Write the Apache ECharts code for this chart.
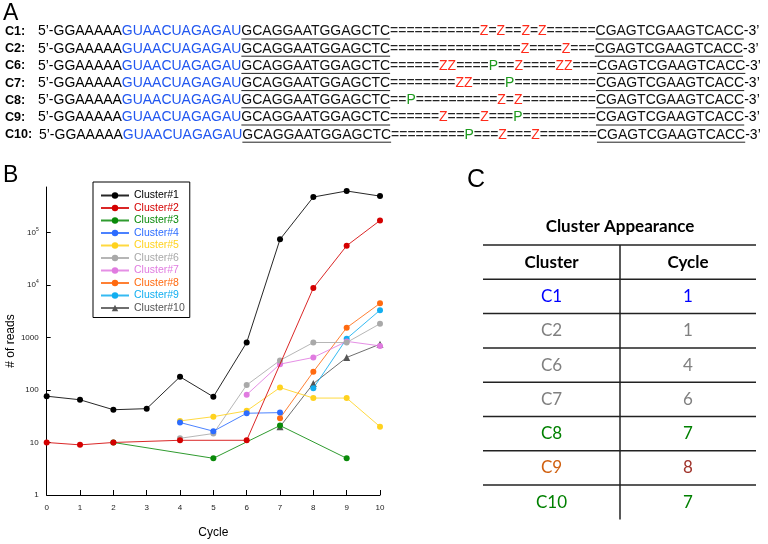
<!DOCTYPE html>
<html><head><meta charset="utf-8">
<script src="https://cdn.jsdelivr.net/npm/echarts@6/dist/echarts.min.js"></script>
<style>html,body{margin:0;padding:0;background:#fff}#c{width:768px;height:544px}</style>
</head><body><div id="c"></div>
<script>
// ---------- Data ----------
const cycles = [0,1,2,3,4,5,6,7,8,9,10];
const seriesNames = ['Cluster#1','Cluster#2','Cluster#3','Cluster#4','Cluster#5','Cluster#6','Cluster#7','Cluster#8','Cluster#9','Cluster#10'];
const cluster1  = [76, 65, 42, 44, 178, 74, 800, 73500, 470000, 613000, 490000];
const cluster2  = [10, 9, 10, null, 11, null, 11, null, 8700, 55600, 168000];
const cluster3  = [null, null, 10, null, null, 5, null, 21, null, 5, null];
const cluster4  = [null, null, null, null, 24, 16.4, 36, 37, null, null, null];
const cluster5  = [null, null, null, null, 25.7, 31, 40, 111, 70, 70, 20];
const cluster6  = [null, null, null, null, 12, 14.8, 124, 365, 800, 800, 1820];
const cluster7  = [null, null, null, null, null, null, 81, 310, 415, 840, 690];
const cluster8  = [null, null, null, null, null, null, null, 29, 222, 1530, 4450];
const cluster9  = [null, null, null, null, null, null, null, null, 108, 946, 3300];
const cluster10 = [null, null, null, null, null, null, null, 20, 132, 415, 744];
const yTickLabels = ['1','10','100','1000','10{s|4}','10{s|5}'];

const seqLabels = ['C1:','C2:','C6:','C7:','C8:','C9:','C10:'];
const seqPrefix = '5\u2019-GGAAAAA';
const seqBlue = 'GUAACUAGAGAU';
const seqLeft = 'GCAGGAATGGAGCTC';
const seqMiddles = [
  '===========Z=Z==Z=Z======',
  '================Z====Z===',
  '======ZZ====P==Z====ZZ===',
  '========ZZ====P==========',
  '==P==========Z=Z=========',
  '======Z====Z===P=========',
  '=========P===Z===Z======='
];
const seqRight = 'CGAGTCGAAGTCACC';
const seqSuffix = '-3\u2019';

const tableTitle = 'Cluster Appearance';
const tableHeader = ['Cluster','Cycle'];
const tableClusters = ['C1','C2','C6','C7','C8','C9','C10'];
const tableCycles = ['1','1','4','6','7','8','7'];

// ---------- Styles ----------
const colors = ['#000000','#d40000','#0a8a0a','#2c6cff','#ffd21f','#a9a9a9','#e07be0','#ff6a10','#12aef0','#555555'];
const tableClusterColors = ['#0000ff','#808080','#808080','#808080','#008000','#d06010','#008000'];
const tableCycleColors   = ['#0000ff','#808080','#808080','#808080','#008000','#a0342c','#008000'];

const allData = [cluster1,cluster2,cluster3,cluster4,cluster5,cluster6,cluster7,cluster8,cluster9,cluster10];

const series = allData.map((arr, i) => ({
  name: seriesNames[i],
  type: 'line',
  data: cycles.map((c, j) => [c, arr[j]]).filter(p => p[1] !== null),
  symbol: i === 9 ? 'triangle' : 'circle',
  symbolSize: i === 9 ? 7 : 6,
  itemStyle: { color: colors[i] },
  lineStyle: { color: colors[i], width: 1, opacity: 0.85 },
  emphasis: { disabled: true },
  animation: false,
  z: 10 - i
}));

// ---------- Graphic (panel A & C) ----------
const ctx = document.createElement('canvas').getContext('2d');
const FAM = '"Liberation Sans", Arial, sans-serif';
function tw(t, font) { ctx.font = font; return ctx.measureText(t).width; }
const fullSeq = seqPrefix + seqBlue + seqLeft + seqMiddles[0] + seqRight + seqSuffix;
const fs = 722 / tw(fullSeq, '100px ' + FAM) * 100;
const seqFont = fs.toFixed(2) + 'px ' + FAM;
const g = [];
function addText(x, y, text, font, fill, align) {
  g.push({ type: 'text', x: x, y: y, silent: true,
    style: { text: text, font: font, fill: fill, align: align || 'left', verticalAlign: 'middle' } });
}
g.push({ type:'text', x: 3, y: 13.5, style:{ text:'A', font:'23px ' + FAM, fill:'#000', verticalAlign:'middle' } });
g.push({ type:'text', x: 3, y: 176, style:{ text:'B', font:'23px ' + FAM, fill:'#000', verticalAlign:'middle' } });
g.push({ type:'text', x: 467, y: 180, style:{ text:'C', font:'25px ' + FAM, fill:'#000', verticalAlign:'middle' } });

seqLabels.forEach((lab, r) => {
  const y = 31.5 + r * 17.2;
  addText(5, y, lab, 'bold 12.6px ' + FAM, '#000');
  let x = r === 6 ? 39 : 38;
  const segs = [
    { t: seqPrefix, c: '#000' },
    { t: seqBlue, c: '#2257f0' },
    { t: seqLeft, c: '#111', u: true }
  ];
  const mid = seqMiddles[r];
  let cur = null;
  for (const ch of mid) {
    const col = ch === 'Z' ? '#ff2a1a' : (ch === 'P' ? '#1e9a1e' : '#222');
    if (cur && cur.c === col) cur.t += ch; else { cur = { t: ch, c: col }; segs.push(cur); }
  }
  segs.push({ t: seqRight, c: '#111', u: true });
  segs.push({ t: seqSuffix, c: '#000' });
  segs.forEach(s => {
    const w = tw(s.t, seqFont);
    addText(x, y, s.t, seqFont, s.c);
    if (s.u) g.push({ type:'line', silent:true, shape:{ x1:x, y1:y+7.5, x2:x+w, y2:y+7.5 }, style:{ stroke:'#222', lineWidth:1 } });
    x += w;
  });
});

// table
const TF = 'Lato, "Open Sans", sans-serif';
addText(620, 227, tableTitle, 'bold 17px ' + TF, '#000', 'center');
const tL = 483, tR = 756, tM = 620, tTop = 245, rh = 34.3;
for (let k = 0; k < 8; k++) {
  const yy = tTop + k * rh;
  g.push({ type:'line', silent:true, shape:{ x1:tL, y1:yy, x2:tR, y2:yy }, style:{ stroke:'#222', lineWidth:1.5 } });
}
g.push({ type:'line', silent:true, shape:{ x1:tM, y1:tTop, x2:tM, y2:tTop + 8 * rh }, style:{ stroke:'#222', lineWidth:1.5 } });
addText((tL + tM) / 2, tTop + rh / 2, tableHeader[0], 'bold 17px ' + TF, '#000', 'center');
addText((tM + tR) / 2, tTop + rh / 2, tableHeader[1], 'bold 17px ' + TF, '#000', 'center');
tableClusters.forEach((c, i) => {
  const yy = tTop + rh * (i + 1) + rh / 2;
  addText((tL + tM) / 2, yy, c, '17px ' + TF, tableClusterColors[i], 'center');
  addText((tM + tR) / 2, yy, tableCycles[i], '17px ' + TF, tableCycleColors[i], 'center');
});

// ---------- Chart ----------
const chart = echarts.init(document.getElementById('c'), null, { renderer: 'canvas' });
chart.setOption({
  animation: false,
  backgroundColor: '#fff',
  grid: { left: 46.7, right: 388, top: 187, bottom: 40, containLabel: false },
  xAxis: {
    type: 'value', min: 0, max: 10, interval: 1,
    name: 'Cycle', nameLocation: 'middle', nameGap: 32,
    nameTextStyle: { fontSize: 12, fontFamily: FAM, color: '#000' },
    axisLine: { lineStyle: { color: '#000', width: 1 } },
    axisTick: { inside: true, length: 5, lineStyle: { color: '#000' } },
    axisLabel: { fontSize: 8, fontFamily: FAM, color: '#222', margin: 9 },
    splitLine: { show: false }
  },
  yAxis: {
    type: 'log', logBase: 10, min: 1, max: 730000,
    name: '# of reads', nameLocation: 'middle', nameGap: 30,
    nameTextStyle: { fontSize: 12, fontFamily: FAM, color: '#000' },
    axisLine: { show: true, lineStyle: { color: '#000', width: 1 } },
    axisTick: { show: true, inside: true, length: 4, lineStyle: { color: '#000' } },
    axisLabel: {
      fontSize: 8, fontFamily: FAM, color: '#222', margin: 8, showMaxLabel: false,
      formatter: function (v) {
        const e = Math.round(Math.log10(v));
        return yTickLabels[e] !== undefined ? yTickLabels[e] : '';
      },
      rich: { s: { fontSize: 5, fontFamily: FAM, color: '#222', verticalAlign: 'top', padding: [0,0,6,0] } }
    },
    splitLine: { show: false }
  },
  legend: {
    orient: 'vertical', left: 93, top: 182,
    borderColor: '#000', borderWidth: 1, padding: [8, 5, 4, 7],
    itemWidth: 28, itemHeight: 8, itemGap: 1.5,
    textStyle: { fontSize: 10.5, fontFamily: FAM, lineHeight: 10 },
    data: seriesNames.map((n, i) => ({ name: n, textStyle: { color: colors[i] } }))
  },
  graphic: { elements: g },
  series: series
});
</script>
</body></html>
